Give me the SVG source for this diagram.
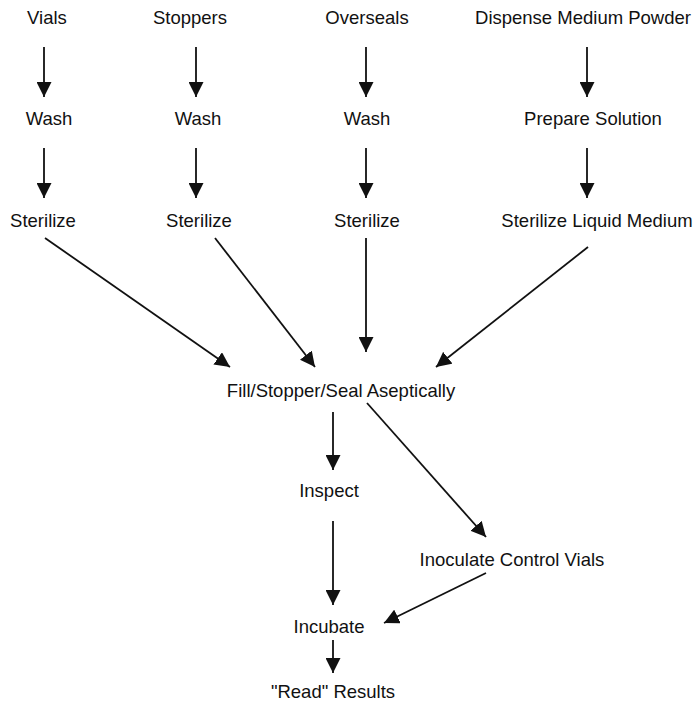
<svg xmlns="http://www.w3.org/2000/svg" width="695" height="704" viewBox="0 0 695 704">
<defs>
<style>
text{font-family:"Liberation Sans",Arial,sans-serif;font-size:18.5px;fill:#111;text-anchor:middle}
.c line{stroke:#111;stroke-width:1.8;marker-end:url(#ah)}
</style>
<marker id="ah" markerUnits="userSpaceOnUse" markerWidth="15" markerHeight="15" refX="15" refY="7.5" orient="auto" viewBox="0 0 15 15">
<path d="M0,0 L15,7.5 L0,15 z" fill="#111"/>
</marker>
</defs>
<rect width="695" height="704" fill="#fff"/>
<g id="vials"><text x="47" y="24">Vials</text></g>
<g id="stoppers"><text x="190" y="24">Stoppers</text></g>
<g id="overseals"><text x="367" y="24">Overseals</text></g>
<g id="dispense"><text x="583" y="24">Dispense Medium Powder</text></g>
<g id="wash1"><text x="49" y="125">Wash</text></g>
<g id="wash2"><text x="198" y="125">Wash</text></g>
<g id="wash3"><text x="367" y="125">Wash</text></g>
<g id="prepare"><text x="593" y="125">Prepare Solution</text></g>
<g id="sterilize1"><text x="43" y="227">Sterilize</text></g>
<g id="sterilize2"><text x="199" y="227">Sterilize</text></g>
<g id="sterilize3"><text x="367" y="227">Sterilize</text></g>
<g id="sterilize4"><text x="597" y="227">Sterilize Liquid Medium</text></g>
<g id="fill"><text x="341" y="397">Fill/Stopper/Seal Aseptically</text></g>
<g id="inspect"><text x="329" y="497">Inspect</text></g>
<g id="inoculate"><text x="512" y="566">Inoculate Control Vials</text></g>
<g id="incubate"><text x="329" y="633">Incubate</text></g>
<g id="read"><text x="333" y="698">"Read" Results</text></g>
<g class="c" id="connectors">
<line x1="44" y1="47" x2="44" y2="97"/>
<line x1="196" y1="47" x2="196" y2="97"/>
<line x1="366" y1="47" x2="366" y2="97"/>
<line x1="587" y1="47" x2="587" y2="97"/>
<line x1="44" y1="148" x2="44" y2="198"/>
<line x1="196" y1="148" x2="196" y2="198"/>
<line x1="366" y1="148" x2="366" y2="198"/>
<line x1="587" y1="148" x2="587" y2="198"/>
<line x1="45" y1="238" x2="230" y2="367"/>
<line x1="215" y1="238" x2="315" y2="367"/>
<line x1="366" y1="238" x2="366" y2="352"/>
<line x1="588" y1="247" x2="436" y2="367"/>
<line x1="333" y1="412" x2="333" y2="470"/>
<line x1="367" y1="403" x2="486" y2="537"/>
<line x1="333" y1="521" x2="333" y2="605"/>
<line x1="486" y1="573" x2="384" y2="623"/>
<line x1="333" y1="640" x2="333" y2="673"/>
</g>
</svg>
